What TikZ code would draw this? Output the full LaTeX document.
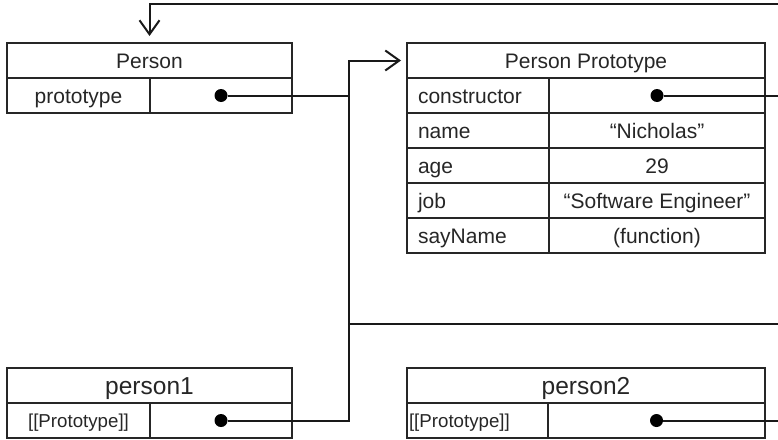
\documentclass[tikz,border=0pt]{standalone}
\usepackage{fontspec}
\setmainfont{Liberation Sans}
\usetikzlibrary{arrows.meta,positioning}
\tikzset{
  cell/.style={draw=black!85, line width=1.5pt, inner sep=0pt, outer sep=0pt,
    minimum height=35pt, anchor=north west, text=black!85,
    text height=15pt, text depth=0pt,
    font=\fontsize{21}{23}\selectfont},
  head/.style={cell, minimum width=#1},
  keycell/.style={cell, text width=#1, align=left, inner xsep=11pt},
  valcell/.style={cell, minimum width=#1},
  big/.style={font=\fontsize{24.5}{26}\selectfont, text height=17.5pt},
  small/.style={font=\fontsize{18.7}{20}\selectfont, text height=13.4pt},
  dot/.style={circle, fill=black, inner sep=0pt, minimum size=13pt},
  link/.style={line width=2pt, draw=black!90},
}

\begin{document}
\begin{tikzpicture}[x=1pt, y=-1pt, >={Straight Barb[length=14pt,width=20pt]}]
    \useasboundingbox (0,0) rectangle (778,439);

    % Person
    \node[head=285pt] (person) at (7,43) {Person};
    \node[valcell=143pt] (pkey) at (person.south west) {prototype};
    \node[valcell=142pt] (pval) at (pkey.north east) {};

    % Person Prototype
    \node[head=358pt] (proto) at (407,43) {Person Prototype};
    \node[keycell=120pt] (ckey) at (proto.south west) {constructor};
    \node[valcell=216pt] (cval) at (ckey.north east) {};
    \node[keycell=120pt] (nkey) at (ckey.south west) {name};
    \node[valcell=216pt] (nval) at (nkey.north east) {“Nicholas”};
    \node[keycell=120pt] (akey) at (nkey.south west) {age};
    \node[valcell=216pt] (aval) at (akey.north east) {29};
    \node[keycell=120pt] (jkey) at (akey.south west) {job};
    \node[valcell=216pt] (jval) at (jkey.north east) {“Software Engineer”};
    \node[keycell=120pt] (skey) at (jkey.south west) {sayName};
    \node[valcell=216pt] (sval) at (skey.north east) {(function)};

    % instances
    \node[head=285pt, big] (personA) at (7,368) {person1};
    \node[valcell=143pt, small] (akeyA) at (personA.south west) {[[Prototype]]};
    \node[valcell=142pt] (avalA) at (akeyA.north east) {};
    \node[head=358pt, big] (personB) at (407,368) {person2};
    \node[keycell=137pt, small, inner xsep=2pt] (bkeyB) at (personB.south west) {[[Prototype]]};
    \node[valcell=217pt] (bvalB) at (bkeyB.north east) {};

    % dots
    \node[dot] (pdot) at (pval) {};
    \node[dot] (cdot) at (cval) {};
    \node[dot] (adot) at (avalA) {};
    \node[dot] (bdot) at (bvalB) {};

    \coordinate (bus) at (349,0);
    \coordinate (edge) at (778,0);
    \coordinate (top) at (0,4);
    \coordinate (joint) at (0,324);

    % links
    \draw[link] (pdot) -- (pdot -| bus);
    \draw[link,->,shorten >=6pt] (adot) -| (bus |- proto.west) -- (proto.west);
    \draw[link] (bus |- joint) -- (edge |- joint);
    \draw[link] (cdot) -- (cdot -| edge);
    \draw[link] (bdot) -- (bdot -| edge);
    \draw[link,->,shorten >=7pt] (edge |- top) -| (person.north);
\end{tikzpicture}
\end{document}
